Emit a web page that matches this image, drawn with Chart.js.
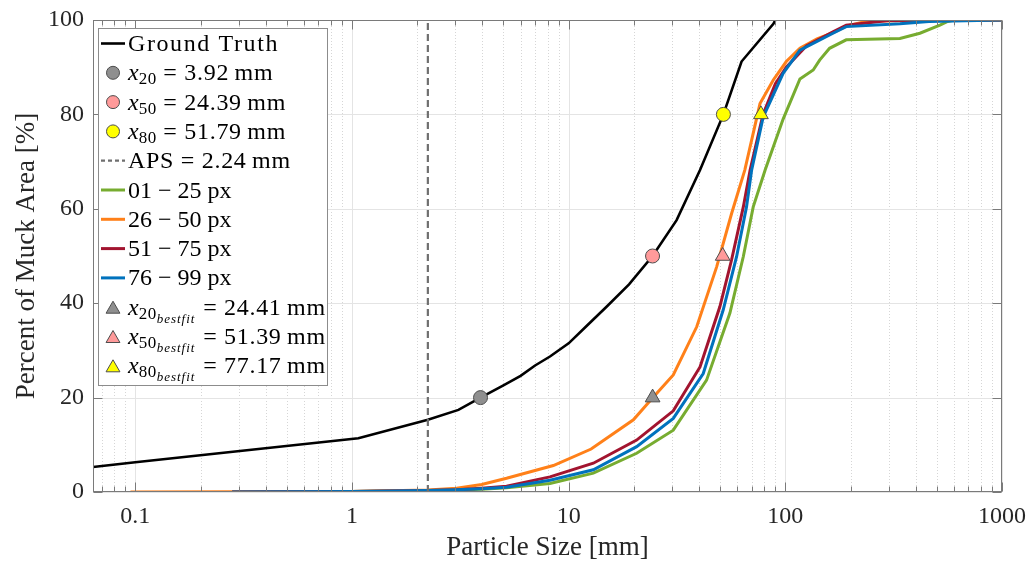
<!DOCTYPE html>
<html>
<head>
<meta charset="utf-8">
<script src="https://cdn.jsdelivr.net/npm/chart.js@4.4.0/dist/chart.umd.min.js"></script>
<style>
  html, body { margin: 0; padding: 0; background: #fff; }
  canvas { display: block; }
</style>
</head>
<body>
<canvas id="psd" width="1031" height="564"></canvas>
<script>
// axis ticks
const sizeTicks = [0.1, 1, 10, 100, 1000]
const percentTicks = [0, 20, 40, 60, 80, 100]

// ground truth curve (mm, %)
const truthSize = [0.0638, 0.1, 1.07, 2.24, 3.1, 3.92, 5, 6, 7, 8.2, 10, 12, 15, 19, 24.39, 31.5, 40.4, 51.79, 62.8, 88.1, 91]
const truthPct = [5.3, 6.3, 11.4, 15.3, 17.4, 20, 22.6, 24.6, 26.8, 28.7, 31.5, 35, 39.3, 44, 50, 57.6, 68.2, 80, 91.2, 99.2, 100.4]

// 01 - 25 px
const size01 = [0.28, 1, 2.24, 3.04, 3.97, 5.17, 8.2, 13, 20.6, 30.4, 43.3, 55.5, 64, 71.1, 80.7, 97.7, 116.8, 134.5, 144, 160, 191, 338, 418, 517, 555, 600, 1000]
const pct01 = [0, 0.1, 0.3, 0.4, 0.6, 0.9, 1.8, 4.0, 8.2, 13.1, 23.7, 37.9, 49.9, 60.4, 68.2, 79, 87.5, 89.4, 91.5, 94, 95.8, 96.1, 97.2, 98.9, 99.6, 100, 100]

// 26 - 50 px
const size26 = [0.095, 1, 2.24, 3.04, 3.97, 5.17, 8.5, 12.7, 19.9, 24.5, 30.4, 39, 48.2, 56.5, 65, 76.4, 88, 101, 116.8, 140, 166, 191, 240, 1000]
const pct26 = [0, 0.1, 0.4, 0.8, 1.6, 2.9, 5.6, 9.1, 15.3, 20, 24.8, 35, 47.7, 59, 68.2, 82.3, 87.3, 91.2, 94, 96, 97.3, 98.7, 99.8, 100]

// 51 - 75 px
const size51 = [0.28, 1, 2.24, 3.04, 3.97, 5.17, 8.2, 13, 20.6, 30.4, 40.4, 49.9, 56.5, 64, 68.8, 78.9, 90, 101, 125, 166, 191, 300, 1000]
const pct51 = [0, 0.1, 0.3, 0.5, 0.8, 1.2, 3.2, 6.1, 11, 17.2, 26.5, 39.3, 49.2, 60.4, 68.2, 80, 86.5, 90, 94.5, 97.5, 98.9, 99.9, 100]

// 76 - 99 px
const size76 = [0.28, 1, 2.24, 3.04, 3.97, 5.17, 8.2, 13, 20.6, 30.4, 41.8, 51.7, 59.6, 66.2, 69.9, 79.1, 97.7, 116.8, 125, 166, 191, 338, 460, 1000]
const pct76 = [0, 0.1, 0.3, 0.5, 0.7, 1.0, 2.5, 4.7, 9.6, 15.6, 25.1, 38.6, 49.9, 60.4, 68.2, 79.5, 88.7, 93.6, 94.3, 97.2, 98.6, 99.2, 99.7, 100]

// characteristic sizes
const apsSize = 2.24
const markPct = [20, 50, 80]
const truthMarks = [3.92, 24.39, 51.79]
const fitMarks = [24.41, 51.39, 77.17]

const markColors = ['#8f8f8f', '#ff9a9a', '#ffff00']
const FONT = '"Liberation Serif", "Times New Roman", serif'

const pts = (xs, ys) => xs.map((x, i) => ({ x: x, y: ys[i] }))

function marker(x, y, color, style, r) {
    return {
        data: [{ x: x, y: y }],
        showLine: false,
        pointStyle: style,
        pointRadius: r,
        backgroundColor: color,
        borderColor: '#4d4d4d',
        pointBorderWidth: 1,
        order: 0,
    }
}

function curve(xs, ys, color, width, order) {
    return {
        data: pts(xs, ys),
        showLine: true,
        borderColor: color,
        borderWidth: width,
        pointRadius: 0,
        tension: 0,
        order: order,
    }
}

const datasets = []
datasets.push(curve(truthSize, truthPct, '#000000', 2.6, 2))
let aps = curve([apsSize, apsSize], [0, 100], '#6f6f6f', 2.2, 1)
aps.borderDash = [7, 4]
datasets.push(aps)
datasets.push(curve(size01, pct01, '#77ac30', 3, 6))
datasets.push(curve(size26, pct26, '#ff8019', 3, 5))
datasets.push(curve(size51, pct51, '#a2142f', 3, 4))
datasets.push(curve(size76, pct76, '#0072bd', 3, 3))
for (let i = 0; i < 3; i++) {
    datasets.push(marker(truthMarks[i], markPct[i], markColors[i], 'circle', 7))
    datasets.push(marker(fitMarks[i], markPct[i], markColors[i], 'triangle', 8.5))
}

// legend rows: sample kind, colour, text parts
const mm = v => ' = ' + v.toFixed(2) + '\u2009mm'
const legendRows = [
    { kind: 'line', color: '#000000', w: 2.6, parts: [['Ground Truth', 'w']] },
    { kind: 'circle', color: markColors[0], parts: [['x', 'i'], ['20', 's'], [mm(truthMarks[0]), 'n']] },
    { kind: 'circle', color: markColors[1], parts: [['x', 'i'], ['50', 's'], [mm(truthMarks[1]), 'n']] },
    { kind: 'circle', color: markColors[2], parts: [['x', 'i'], ['80', 's'], [mm(truthMarks[2]), 'n']] },
    { kind: 'dash', color: '#6f6f6f', w: 2.2, parts: [['APS' + mm(apsSize), 'n']] },
    { kind: 'line', color: '#77ac30', w: 3, parts: [['01 \u2212 25 px', 'd']] },
    { kind: 'line', color: '#ff8019', w: 3, parts: [['26 \u2212 50 px', 'd']] },
    { kind: 'line', color: '#a2142f', w: 3, parts: [['51 \u2212 75 px', 'd']] },
    { kind: 'line', color: '#0072bd', w: 3, parts: [['76 \u2212 99 px', 'd']] },
    { kind: 'triangle', color: markColors[0], parts: [['x', 'i'], ['20', 's'], ['bestfit', 'ss'], [mm(fitMarks[0]), 'n']] },
    { kind: 'triangle', color: markColors[1], parts: [['x', 'i'], ['50', 's'], ['bestfit', 'ss'], [mm(fitMarks[1]), 'n']] },
    { kind: 'triangle', color: markColors[2], parts: [['x', 'i'], ['80', 's'], ['bestfit', 'ss'], [mm(fitMarks[2]), 'n']] },
]

function drawParts(ctx, parts, x, y) {
    for (const [t, st] of parts) {
        let size = 24, dy = 0, style = '', sp = '0.7px'
        if (st === 'w') sp = '1.6px'
        if (st === 'd') sp = '0px'
        if (st === 'i') { style = 'italic '; sp = '0px' }
        if (st === 's') { size = 17; dy = 4; sp = '0.5px' }
        if (st === 'ss') { size = 13; dy = 8; style = 'italic '; sp = '1px' }
        ctx.font = style + size + 'px ' + FONT
        ctx.letterSpacing = sp
        ctx.fillText(t, x, y + dy)
        x += ctx.measureText(t).width
        if (st === 'ss') x += 1
    }
    ctx.letterSpacing = '0px'
}

const framePlugin = {
    id: 'frame',
    beforeDatasetsDraw(chart) {
        const { ctx, chartArea: a, scales } = chart
        const xs = scales.x, ys = scales.y
        ctx.save()
        ctx.lineWidth = 1
        // minor x grid, dotted
        ctx.strokeStyle = '#d6d6d6'
        ctx.setLineDash([1, 2])
        for (let e = -2; e <= 3; e++) {
            for (let k = 2; k <= 9; k++) {
                const v = k * Math.pow(10, e)
                if (v <= xs.min || v >= xs.max) continue
                const px = Math.round(xs.getPixelForValue(v)) + 0.5
                ctx.beginPath(); ctx.moveTo(px, a.top); ctx.lineTo(px, a.bottom); ctx.stroke()
            }
        }
        ctx.setLineDash([])
        ctx.strokeStyle = '#e4e4e4'
        for (const v of sizeTicks) {
            const px = Math.round(xs.getPixelForValue(v)) + 0.5
            ctx.beginPath(); ctx.moveTo(px, a.top); ctx.lineTo(px, a.bottom); ctx.stroke()
        }
        for (const v of percentTicks) {
            const py = Math.round(ys.getPixelForValue(v)) + 0.5
            ctx.beginPath(); ctx.moveTo(a.left, py); ctx.lineTo(a.right, py); ctx.stroke()
        }
        ctx.restore()
    },
    afterDatasetsDraw(chart) {
        const { ctx, chartArea: a, scales } = chart
        const xs = scales.x, ys = scales.y
        ctx.save()
        ctx.strokeStyle = '#7a7a7a'
        ctx.lineWidth = 1
        const L = Math.round(a.left) + 0.5, R = Math.round(a.right) - 0.5
        const T = Math.round(a.top) + 0.5, B = Math.round(a.bottom) - 0.5
        ctx.strokeRect(L, T, R - L, B - T)
        ctx.beginPath()
        for (let e = -2; e <= 3; e++) {
            for (let k = 1; k <= 9; k++) {
                const v = k * Math.pow(10, e)
                if (v < xs.min || v > xs.max) continue
                const len = k === 1 ? 9 : 5
                const px = Math.round(xs.getPixelForValue(v)) + 0.5
                ctx.moveTo(px, B); ctx.lineTo(px, B - len)
                ctx.moveTo(px, T); ctx.lineTo(px, T + len)
            }
        }
        for (const v of percentTicks) {
            const py = Math.round(ys.getPixelForValue(v)) + 0.5
            ctx.moveTo(L, py); ctx.lineTo(L + 9, py)
            ctx.moveTo(R, py); ctx.lineTo(R - 9, py)
        }
        ctx.stroke()
        ctx.restore()
    },
    afterDraw(chart) {
        const ctx = chart.ctx
        ctx.save()
        // legend box
        ctx.fillStyle = '#ffffff'
        ctx.fillRect(98, 28, 229, 358)
        ctx.strokeStyle = '#8c8c8c'
        ctx.lineWidth = 1
        ctx.strokeRect(98.5, 28.5, 229, 357)
        legendRows.forEach((row, i) => {
            const cy = 43.5 + i * 29.3
            ctx.setLineDash([])
            if (row.kind === 'line' || row.kind === 'dash') {
                ctx.strokeStyle = row.color
                ctx.lineWidth = row.w
                if (row.kind === 'dash') ctx.setLineDash([4, 3])
                ctx.beginPath(); ctx.moveTo(101, cy); ctx.lineTo(125, cy); ctx.stroke()
                ctx.setLineDash([])
            } else {
                ctx.fillStyle = row.color
                ctx.strokeStyle = '#4d4d4d'
                ctx.lineWidth = 1
                const r = row.kind === 'circle' ? 6.5 : 8
                Chart.helpers.drawPoint(ctx, { pointStyle: row.kind, radius: r, borderWidth: 1, rotation: 0 }, 113, row.kind === 'triangle' ? cy + 2 : cy)
            }
            ctx.fillStyle = '#000000'
            ctx.textBaseline = 'alphabetic'
            ctx.textAlign = 'left'
            drawParts(ctx, row.parts, 128, cy + 7.5)
        })
        ctx.restore()
    }
}

new Chart(document.getElementById('psd'), {
    type: 'scatter',
    data: { datasets: datasets },
    options: {
        responsive: false,
        animation: false,
        events: [],
        layout: { padding: { left: 0, top: 20, right: 29, bottom: 0 } },
        plugins: { legend: { display: false }, tooltip: { enabled: false } },
        scales: {
            x: {
                type: 'logarithmic',
                min: 0.0638,
                max: 1000,
                afterBuildTicks: s => { s.ticks = sizeTicks.map(v => ({ value: v })) },
                afterFit: s => { s.height = 72; s.paddingLeft = 0; s.paddingRight = 0 },
                grid: { display: false, drawTicks: false },
                border: { display: false },
                ticks: {
                    autoSkip: false,
                    maxRotation: 0,
                    padding: 10,
                    color: '#262626',
                    font: { family: FONT, size: 24 },
                    callback: v => sizeTicks.includes(v) ? String(v) : '',
                },
                title: {
                    display: true,
                    text: 'Particle Size [mm]',
                    color: '#262626',
                    font: { family: FONT, size: 27 },
                    padding: { top: 0, bottom: 0 },
                },
            },
            y: {
                min: 0,
                max: 100,
                afterBuildTicks: s => { s.ticks = percentTicks.map(v => ({ value: v })) },
                afterFit: s => { s.width = 93; s.paddingTop = 0; s.paddingBottom = 0 },
                grid: { display: false, drawTicks: false },
                border: { display: false },
                ticks: {
                    padding: 9,
                    color: '#262626',
                    font: { family: FONT, size: 24 },
                },
                title: {
                    display: true,
                    text: 'Percent of Muck Area [%]',
                    color: '#262626',
                    font: { family: FONT, size: 27 },
                    padding: { top: 11, bottom: 0 },
                },
            },
        },
    },
    plugins: [framePlugin],
})
</script>
</body>
</html>
